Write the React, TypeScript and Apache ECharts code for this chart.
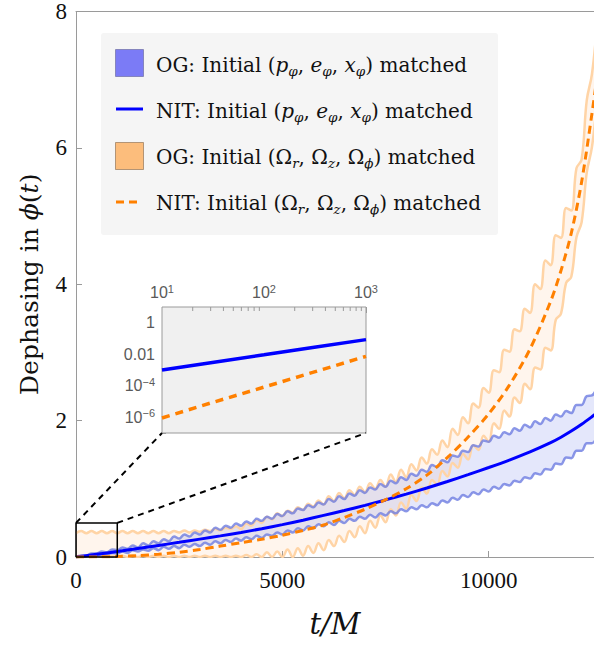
import React, { useEffect, useRef } from "react";
import * as echarts from "echarts";

// ---------- data ----------
const X_MAX = 12550;
const X_TICKS = [0, 5000, 10000];
const Y_TICKS_MAIN = [0, 2, 4, 6, 8];
const EDGE_STEP = 125; // spacing of the sampled band edges (t/M)

// OG band, initial (p, e, x) matched  (blue)
const BLUE_UPPER = [
  0, 0.02, 0.02, 0.05, 0.05, 0.08, 0.07, 0.11, 0.10, 0.14,
  0.12, 0.17, 0.14, 0.20, 0.17, 0.23, 0.20, 0.26, 0.23, 0.30,
  0.27, 0.33, 0.30, 0.36, 0.33, 0.39, 0.36, 0.43, 0.40, 0.46,
  0.43, 0.49, 0.46, 0.52, 0.49, 0.56, 0.53, 0.59, 0.56, 0.63,
  0.60, 0.67, 0.64, 0.71, 0.69, 0.76, 0.73, 0.80, 0.77, 0.85,
  0.81, 0.89, 0.85, 0.93, 0.90, 0.98, 0.94, 1.02, 0.99, 1.07,
  1.03, 1.12, 1.08, 1.17, 1.13, 1.22, 1.19, 1.28, 1.25, 1.35,
  1.32, 1.42, 1.39, 1.49, 1.47, 1.56, 1.54, 1.64, 1.62, 1.71,
  1.69, 1.78, 1.75, 1.83, 1.80, 1.89, 1.85, 1.94, 1.90, 1.99,
  1.95, 2.04, 2.00, 2.09, 2.06, 2.14, 2.11, 2.23, 2.23, 2.36,
  2.37, 2.50,
];
const BLUE_LOWER = [
  0, 0.01, 0.01, 0.03, 0.02, 0.04, 0.04, 0.06, 0.05, 0.08,
  0.06, 0.10, 0.08, 0.11, 0.09, 0.13, 0.10, 0.15, 0.12, 0.16,
  0.13, 0.18, 0.15, 0.19, 0.16, 0.21, 0.18, 0.23, 0.20, 0.25,
  0.22, 0.27, 0.24, 0.29, 0.26, 0.31, 0.28, 0.33, 0.31, 0.36,
  0.33, 0.39, 0.36, 0.42, 0.39, 0.45, 0.42, 0.48, 0.45, 0.51,
  0.47, 0.53, 0.50, 0.56, 0.53, 0.59, 0.56, 0.62, 0.58, 0.64,
  0.61, 0.67, 0.64, 0.70, 0.67, 0.73, 0.70, 0.76, 0.73, 0.79,
  0.76, 0.83, 0.80, 0.87, 0.84, 0.91, 0.88, 0.95, 0.92, 0.99,
  0.96, 1.03, 1.00, 1.07, 1.05, 1.12, 1.10, 1.17, 1.15, 1.23,
  1.21, 1.29, 1.28, 1.37, 1.36, 1.46, 1.45, 1.56, 1.56, 1.67,
  1.67, 1.79,
];
// OG band, initial (Omega_r, Omega_z, Omega_phi) matched  (orange)
const ORANGE_UPPER = [
  0.35, 0.38, 0.35, 0.38, 0.35, 0.38, 0.35, 0.38, 0.35, 0.38,
  0.35, 0.38, 0.35, 0.38, 0.35, 0.38, 0.35, 0.38, 0.35, 0.38,
  0.36, 0.39, 0.36, 0.39, 0.37, 0.40, 0.38, 0.41, 0.39, 0.43,
  0.41, 0.45, 0.41, 0.49, 0.46, 0.54, 0.50, 0.59, 0.55, 0.64,
  0.60, 0.68, 0.65, 0.73, 0.69, 0.78, 0.74, 0.83, 0.77, 0.89,
  0.82, 0.94, 0.86, 0.98, 0.91, 1.03, 0.95, 1.08, 1.00, 1.13,
  1.03, 1.21, 1.10, 1.28, 1.17, 1.36, 1.27, 1.46, 1.37, 1.58,
  1.50, 1.71, 1.61, 1.88, 1.79, 2.05, 1.96, 2.25, 2.19, 2.48,
  2.41, 2.74, 2.71, 3.04, 3.01, 3.34, 3.31, 3.64, 3.58, 4.00,
  3.93, 4.35, 4.28, 4.72, 4.68, 5.12, 5.08, 5.70, 5.83, 6.70,
  7.08, 7.82,
];
const ORANGE_LOWER = [
  0.00, 0.02, 0.00, 0.02, 0.00, 0.02, 0.00, 0.02, 0.00, 0.02,
  0.00, 0.02, 0.00, 0.02, 0.00, 0.02, 0.00, 0.02, 0.00, 0.02,
  0.00, 0.02, 0.00, 0.02, 0.00, 0.02, 0.00, 0.02, 0.00, 0.02,
  0.00, 0.02, 0.00, 0.03, 0.00, 0.04, 0.00, 0.07, 0.00, 0.08,
  0.00, 0.11, 0.00, 0.13, 0.02, 0.16, 0.06, 0.20, 0.10, 0.25,
  0.16, 0.31, 0.22, 0.38, 0.29, 0.45, 0.35, 0.53, 0.43, 0.61,
  0.51, 0.70, 0.61, 0.80, 0.71, 0.91, 0.82, 1.02, 0.93, 1.13,
  1.06, 1.26, 1.18, 1.38, 1.31, 1.51, 1.43, 1.64, 1.57, 1.78,
  1.69, 1.96, 1.88, 2.15, 2.06, 2.34, 2.26, 2.54, 2.46, 2.78,
  2.75, 3.07, 3.03, 3.48, 3.57, 4.02, 4.11, 4.69, 4.91, 5.64,
  6.01, 6.69,
];

// NIT curves
const T_CENTER = [
  0, 500, 1000, 1500, 2000, 2500, 3000, 3500, 4000, 4500, 5000, 5500, 6000,
  6500, 7000, 7500, 8000, 8500, 9000, 9500, 10000, 10500, 11000, 11500, 11750,
  12000, 12250, 12500, 12625,
];
const NIT_BLUE = [
  0, 0.04, 0.08, 0.125, 0.17, 0.215, 0.262, 0.31, 0.36, 0.415, 0.475, 0.54, 0.61,
  0.682, 0.757, 0.837, 0.922, 1.012, 1.107, 1.207, 1.312, 1.422, 1.542, 1.677, 1.757,
  1.847, 1.947, 2.057, 2.115,
];
const NIT_ORANGE = [
  0, 0.002, 0.008, 0.02, 0.04, 0.07, 0.11, 0.16, 0.21, 0.26, 0.32, 0.39, 0.47,
  0.58, 0.7, 0.84, 1.0, 1.2, 1.46, 1.76, 2.1, 2.52, 3.05, 3.75, 4.2,
  4.75, 5.5, 6.5, 7.05,
];

// zoom box on the main plot
const ZOOM_BOX = { t0: 0, t1: 1000, y0: 0, y1: 0.5 };

// inset (log-log)
const INSET_T = [10, 30, 100, 300, 1000];
const INSET_BLUE = [1.0e-3, 2.9e-3, 9.2e-3, 0.027, 0.085];
const INSET_ORANGE = [9e-7, 8e-6, 8.2e-5, 7.0e-4, 7.4e-3];
const INSET_X_RANGE = [10, 1000];
const INSET_Y_RANGE = [1e-7, 10];
const INSET_MINOR_X = [20, 30, 40, 50, 60, 70, 80, 90, 200, 300, 400, 500, 600, 700, 800, 900];

// ---------- styling ----------
const SERIF = "'Liberation Serif', 'DejaVu Serif', serif";
const WIDE_SERIF = "'DejaVu Serif', 'Liberation Serif', serif";
const SANS = "'Liberation Sans', Arial, sans-serif";
const AXIS_GRAY = "#9a9a9a";
const BLUE = "#0000ff";
const ORANGE = "#ff8000";
const BLUE_EDGE = "rgba(110,125,225,0.8)";
const ORANGE_EDGE = "#ffd4a6";
const BLUE_FILL = "rgba(120,135,235,0.2)";
const ORANGE_FILL = "rgba(255,175,110,0.12)";

const edgeT = BLUE_UPPER.map((_, i) => i * EDGE_STEP);
const pairs = (xs: number[], ys: number[]) => xs.map((x, i) => [x, ys[i]]);

function bandSeries(upper: number[], lower: number[], fill: string, z: number) {
  return {
    type: "custom",
    xAxisIndex: 0,
    yAxisIndex: 0,
    clip: true,
    silent: true,
    z,
    data: [[0, 0]],
    renderItem: (_p: any, api: any) => {
      const pts: number[][] = [];
      for (let i = 0; i < edgeT.length; i++) pts.push(api.coord([edgeT[i], upper[i]]));
      for (let i = edgeT.length - 1; i >= 0; i--) pts.push(api.coord([edgeT[i], lower[i]]));
      return { type: "polygon", shape: { points: pts }, style: { fill } };
    },
  };
}

function edgeSeries(vals: number[], color: string, z: number) {
  return {
    type: "line",
    xAxisIndex: 0,
    yAxisIndex: 0,
    data: pairs(edgeT, vals),
    showSymbol: false,
    symbol: "none",
    smooth: 0.4,
    silent: true,
    z,
    lineStyle: { color, width: 2.5 },
  };
}

function expOf(v: number) {
  return Math.round(Math.log10(v));
}

export default function App() {
  const ref = useRef<HTMLDivElement>(null);

  useEffect(() => {
    if (!ref.current) return;
    const chart = echarts.init(ref.current, undefined, { renderer: "svg" });

    const insetRich = {
      b: { fontFamily: SANS, fontSize: 16, color: "#5a5a5a", lineHeight: 19 },
      s: { fontFamily: SANS, fontSize: 11, color: "#5a5a5a", lineHeight: 10, verticalAlign: "top" },
    };

    const option: any = {
      animation: false,
      backgroundColor: "#ffffff",
      grid: [
        { left: 76, top: 7, right: 0, bottom: 88, show: false },
        {
          left: 162,
          top: 307,
          width: 204,
          height: 126,
          show: true,
          backgroundColor: "#f0f0f0",
          borderColor: AXIS_GRAY,
          borderWidth: 1,
          z: 4,
        },
      ],
      xAxis: [
        {
          type: "value",
          gridIndex: 0,
          min: 0,
          max: X_MAX,
          position: "bottom",
          axisLine: { show: true, onZero: false, lineStyle: { color: AXIS_GRAY, width: 1 } },
          axisTick: { show: true, inside: true, length: 6, customValues: X_TICKS, lineStyle: { color: AXIS_GRAY } },
          axisLabel: {
            customValues: X_TICKS,
            formatter: (v: number) => String(v),
            fontFamily: SERIF,
            fontSize: 23,
            color: "#111",
            margin: 12,
          },
          splitLine: { show: false },
          name: "t/M",
          nameLocation: "middle",
          nameGap: 52,
          nameTextStyle: { fontFamily: WIDE_SERIF, fontStyle: "italic", fontSize: 29, color: "#111" },
        },
        {
          type: "value",
          gridIndex: 0,
          min: 0,
          max: X_MAX,
          position: "top",
          axisLine: { show: true, onZero: false, lineStyle: { color: AXIS_GRAY, width: 1 } },
          axisTick: { show: false },
          axisLabel: { show: false },
          splitLine: { show: false },
        },
        {
          type: "log",
          logBase: 10,
          gridIndex: 1,
          min: INSET_X_RANGE[0],
          max: INSET_X_RANGE[1],
          position: "top",
          axisLine: { show: false },
          axisTick: { show: true, inside: true, length: 6, lineStyle: { color: AXIS_GRAY } },
          splitLine: { show: false },
          axisLabel: {
            margin: 5,
            formatter: (v: number) => `{b|10}{s|${expOf(v)}}`,
            rich: insetRich,
          },
        },
      ],
      yAxis: [
        {
          type: "value",
          gridIndex: 0,
          min: 0,
          max: 8,
          interval: 2,
          axisLine: { show: true, onZero: false, lineStyle: { color: AXIS_GRAY, width: 1 } },
          axisTick: { show: true, inside: true, length: 6, customValues: Y_TICKS_MAIN, lineStyle: { color: AXIS_GRAY } },
          axisLabel: {
            customValues: Y_TICKS_MAIN,
            fontFamily: SERIF,
            fontSize: 23,
            color: "#111",
            margin: 9,
            verticalAlign: "middle",
            verticalAlignMaxLabel: "middle",
            verticalAlignMinLabel: "middle",
          },
          splitLine: { show: false },
        },
        {
          type: "log",
          logBase: 10,
          gridIndex: 1,
          min: INSET_Y_RANGE[0],
          max: INSET_Y_RANGE[1],
          axisLine: { show: false },
          axisTick: { show: true, inside: true, length: 4, lineStyle: { color: AXIS_GRAY } },
          splitLine: { show: false },
          axisLabel: {
            margin: 7,
            formatter: (v: number) => {
              const e = expOf(v);
              if (e === 0) return "{b|1}";
              if (e === -2) return "{b|0.01}";
              if (e === -4 || e === -6) return `{b|10}{s|−${-e}}`;
              return "";
            },
            rich: insetRich,
          },
        },
      ],
      series: [
        bandSeries(ORANGE_UPPER, ORANGE_LOWER, ORANGE_FILL, 1),
        bandSeries(BLUE_UPPER, BLUE_LOWER, BLUE_FILL, 1),
        edgeSeries(ORANGE_UPPER, ORANGE_EDGE, 2),
        edgeSeries(ORANGE_LOWER, ORANGE_EDGE, 2),
        edgeSeries(BLUE_UPPER, BLUE_EDGE, 3),
        edgeSeries(BLUE_LOWER, BLUE_EDGE, 3),
        {
          type: "line",
          xAxisIndex: 0,
          yAxisIndex: 0,
          data: pairs(T_CENTER, NIT_BLUE),
          showSymbol: false,
          symbol: "none",
          smooth: 0.3,
          z: 4,
          lineStyle: { color: BLUE, width: 3 },
        },
        {
          type: "line",
          xAxisIndex: 0,
          yAxisIndex: 0,
          data: pairs(T_CENTER, NIT_ORANGE),
          showSymbol: false,
          symbol: "none",
          smooth: 0.3,
          z: 5,
          lineStyle: { color: ORANGE, width: 3, type: [8, 5] },
        },
        {
          type: "line",
          xAxisIndex: 0,
          yAxisIndex: 0,
          data: [
            [ZOOM_BOX.t0, ZOOM_BOX.y0],
            [ZOOM_BOX.t1, ZOOM_BOX.y0],
            [ZOOM_BOX.t1, ZOOM_BOX.y1],
            [ZOOM_BOX.t0, ZOOM_BOX.y1],
            [ZOOM_BOX.t0, ZOOM_BOX.y0],
          ],
          showSymbol: false,
          symbol: "none",
          clip: false,
          z: 6,
          lineStyle: { color: "#000", width: 1.5 },
        },
        {
          type: "line",
          xAxisIndex: 2,
          yAxisIndex: 1,
          data: pairs(INSET_T, INSET_BLUE),
          showSymbol: false,
          symbol: "none",
          z: 6,
          lineStyle: { color: BLUE, width: 3.5 },
        },
        {
          type: "line",
          xAxisIndex: 2,
          yAxisIndex: 1,
          data: pairs(INSET_T, INSET_ORANGE),
          showSymbol: false,
          symbol: "none",
          z: 6,
          lineStyle: { color: ORANGE, width: 3.5, type: [8, 6] },
        },
        {
          type: "custom",
          xAxisIndex: 2,
          yAxisIndex: 1,
          silent: true,
          z: 6,
          data: INSET_MINOR_X.map((v) => [v, INSET_Y_RANGE[1]]),
          renderItem: (_p: any, api: any) => {
            const pt = api.coord([api.value(0), api.value(1)]);
            return {
              type: "line",
              shape: { x1: pt[0], y1: pt[1], x2: pt[0], y2: pt[1] + 4 },
              style: { stroke: AXIS_GRAY, lineWidth: 1 },
            };
          },
        },
      ],
    };

    chart.setOption(option);

    // connectors from the zoom box on the main plot to the inset corners
    const a1 = chart.convertToPixel({ xAxisIndex: 0, yAxisIndex: 0 } as any, [ZOOM_BOX.t0, ZOOM_BOX.y1]) as number[];
    const a2 = chart.convertToPixel({ xAxisIndex: 0, yAxisIndex: 0 } as any, [ZOOM_BOX.t1, ZOOM_BOX.y1]) as number[];
    const b1 = chart.convertToPixel({ xAxisIndex: 2, yAxisIndex: 1 } as any, [INSET_X_RANGE[0], INSET_Y_RANGE[0]]) as number[];
    const b2 = chart.convertToPixel({ xAxisIndex: 2, yAxisIndex: 1 } as any, [INSET_X_RANGE[1], INSET_Y_RANGE[0]]) as number[];
    const mainTop = chart.convertToPixel({ xAxisIndex: 0, yAxisIndex: 0 } as any, [0, 8]) as number[];
    const mainBot = chart.convertToPixel({ xAxisIndex: 0, yAxisIndex: 0 } as any, [0, 0]) as number[];

    const LF = 20;
    const textRich = {
      t: { fontFamily: WIDE_SERIF, fontSize: LF, fill: "#111", lineHeight: 25 },
      i: { fontFamily: WIDE_SERIF, fontSize: LF, fontStyle: "italic", fill: "#111", lineHeight: 25 },
      s: { fontFamily: WIDE_SERIF, fontSize: 13.5, fontStyle: "italic", fill: "#111", lineHeight: 13, verticalAlign: "bottom" },
    };
    const legendRows = [
      "{t|OG: Initial (}{i|p}{s|φ}{t|, }{i|e}{s|φ}{t|, }{i|x}{s|φ}{t|) matched}",
      "{t|NIT: Initial (}{i|p}{s|φ}{t|, }{i|e}{s|φ}{t|, }{i|x}{s|φ}{t|) matched}",
      "{t|OG: Initial (Ω}{s|r}{t|, Ω}{s|z}{t|, Ω}{s|ϕ}{t|) matched}",
      "{t|NIT: Initial (Ω}{s|r}{t|, Ω}{s|z}{t|, Ω}{s|ϕ}{t|) matched}",
    ];
    const rowY = [65, 111, 157, 203];

    const titleRich = {
      t: { fontFamily: WIDE_SERIF, fontSize: 25, fill: "#111" },
      i: { fontFamily: WIDE_SERIF, fontSize: 25, fontStyle: "italic", fill: "#111" },
    };

    const graphic: any[] = [
      {
        type: "text",
        z: 20,
        silent: true,
        x: 29,
        y: (mainTop[1] + mainBot[1]) / 2,
        rotation: Math.PI / 2,
        style: {
          text: "{t|Dephasing in }{i|ϕ}{t|(}{i|t}{t|)}",
          rich: titleRich,
          fontFamily: WIDE_SERIF,
          fontSize: 25,
          fill: "#111",
          align: "center",
          verticalAlign: "middle",
        },
      },
      {
        type: "line",
        z: 20,
        silent: true,
        shape: { x1: a1[0], y1: a1[1], x2: b1[0], y2: b1[1] },
        style: { stroke: "#000", lineWidth: 2, lineDash: [6, 5] },
      },
      {
        type: "line",
        z: 20,
        silent: true,
        shape: { x1: a2[0], y1: a2[1], x2: b2[0], y2: b2[1] },
        style: { stroke: "#000", lineWidth: 2, lineDash: [6, 5] },
      },
      {
        type: "rect",
        z: 20,
        silent: true,
        shape: { x: 101, y: 33, width: 397, height: 202, r: 3 },
        style: { fill: "#f5f5f5" },
      },
      {
        type: "rect",
        z: 21,
        silent: true,
        shape: { x: 115.5, y: 49.5, width: 28, height: 27 },
        style: { fill: "#7b7bf6", stroke: "rgba(70,70,120,0.45)", lineWidth: 1 },
      },
      {
        type: "line",
        z: 21,
        silent: true,
        shape: { x1: 116, y1: 109, x2: 143, y2: 109 },
        style: { stroke: BLUE, lineWidth: 3 },
      },
      {
        type: "rect",
        z: 21,
        silent: true,
        shape: { x: 115.5, y: 142.5, width: 28, height: 27 },
        style: { fill: "#fcbd7c", stroke: "rgba(110,80,50,0.5)", lineWidth: 1 },
      },
      {
        type: "line",
        z: 21,
        silent: true,
        shape: { x1: 116, y1: 202, x2: 139, y2: 202 },
        style: { stroke: ORANGE, lineWidth: 3, lineDash: [8, 5] },
      },
      ...legendRows.map((txt, k) => ({
        type: "text",
        z: 21,
        silent: true,
        x: 156,
        y: rowY[k],
        style: {
          text: txt,
          rich: textRich,
          fontFamily: WIDE_SERIF,
          fontSize: LF,
          fill: "#111",
          align: "left",
          verticalAlign: "middle",
        },
      })),
    ];

    chart.setOption({ graphic });

    return () => {
      chart.dispose();
    };
  }, []);

  return (
    <div
      ref={ref}
      style={{ position: "absolute", left: 0, top: 0, width: 594, height: 645, background: "#fff" }}
    />
  );
}
